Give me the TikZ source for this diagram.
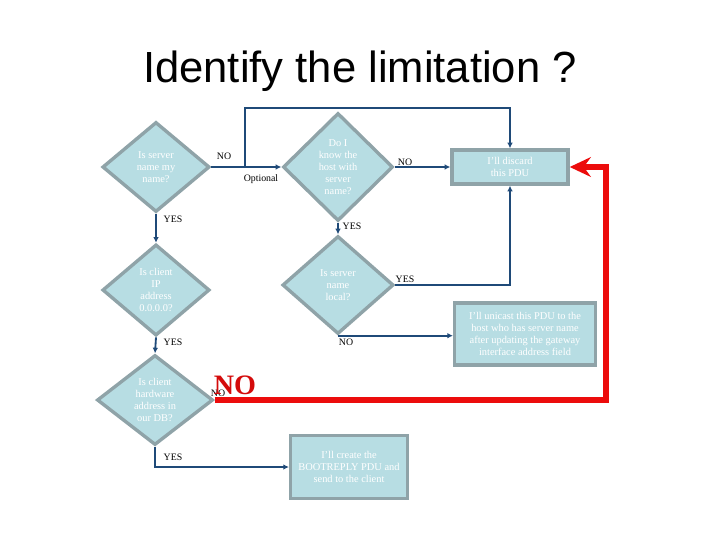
\documentclass[tikz,border=0pt]{standalone}
\usepackage{fontspec}
\setmainfont{Liberation Serif}
\newfontfamily\titlefont{Liberation Sans}
\usetikzlibrary{shapes.geometric,arrows.meta}
\definecolor{boxfill}{RGB}{183,221,227}
\definecolor{boxline}{RGB}{143,163,168}
\definecolor{flowblue}{RGB}{31,74,120}
\definecolor{alarmred}{RGB}{236,12,12}
\begin{document}
\begin{tikzpicture}[x=0.025cm,y=-0.025cm,
  question/.style={diamond,draw=boxline,fill=boxfill,line width=2.4pt,inner sep=0pt,
    text=white,align=center,font=\fontsize{7.4}{8.6}\selectfont},
  action/.style={rectangle,draw=boxline,fill=boxfill,line width=2.4pt,inner sep=0pt,
    text=white,align=center,font=\fontsize{7.4}{8.6}\selectfont},
  flow/.style={draw=flowblue,line width=1.3pt,-{Latex[length=4pt,width=4pt]}},
  alarm/.style={draw=alarmred,line width=3.6pt,-{Stealth[length=15pt,width=14pt,inset=5pt]}},
  tag/.style={font=\fontsize{7}{8}\selectfont,inner sep=0pt}]
\useasboundingbox (0,0) rectangle (720,540);
\node[font=\titlefont\fontsize{31}{36}\selectfont] (title) at (360,71) {Identify the limitation ?};
\node[question,minimum width=2.68cm,minimum height=2.25cm] (servername) at (156,167) {Is server\\name my\\name?};
\node[question,minimum width=2.75cm,minimum height=2.7cm] (knowhost) at (338,167) {Do I\\know the\\host with\\server\\name?};
\node[question,minimum width=2.78cm,minimum height=2.45cm] (local) at (338,285) {Is server\\name\\local?};
\node[question,minimum width=2.68cm,minimum height=2.28cm] (clientip) at (156,290) {Is client\\IP\\address\\0.0.0.0?};
\node[question,minimum width=2.9cm,minimum height=2.25cm] (hwaddr) at (155,400) {Is client\\hardware\\address in\\our DB?};
\node[action,minimum width=2.9cm,minimum height=0.85cm] (discard) at (510,167) {I'll discard\\this PDU};
\node[action,minimum width=3.52cm,minimum height=1.55cm] (unicast) at (525,334) {I'll unicast this PDU to the\\host who has server name\\after updating the gateway\\interface address field};
\node[action,minimum width=2.92cm,minimum height=1.58cm] (create) at (349,467) {I'll create the\\BOOTREPLY PDU and\\send to the client};
\coordinate (optional) at (245,167);
\coordinate (topline) at (245,108);
\coordinate (redturn) at (606,167);
\draw[flow] (servername.east) -- (knowhost.west);
\draw[flow] (optional) -- (topline) -| (discard.north);
\draw[flow] (knowhost.east) -- (discard.west);
\draw[flow] (knowhost.south) -- (local.north);
\draw[flow] (local.east) -| (discard.south);
\draw[flow] (local.south) -- (local.south -| unicast.west);
\draw[flow] (servername.south) -- (clientip.north);
\draw[flow] (clientip.south) -- (hwaddr.north);
\draw[flow] (hwaddr.south) |- (create.west);
\draw[alarm] (hwaddr.east) -| (redturn) -- (discard.east);
\node[tag] (no1) at (224,156) {NO};
\node[tag] (opt) at (261,179) {Optional};
\node[tag] (no2) at (405,162) {NO};
\node[tag] (yes1) at (173,219) {YES};
\node[tag] (yes2) at (352,226) {YES};
\node[tag] (yes3) at (405,279) {YES};
\node[tag] (no3) at (346,342) {NO};
\node[tag] (yes4) at (173,342) {YES};
\node[tag] (no4) at (218,393) {NO};
\node[text=alarmred!90!black,font=\bfseries\fontsize{20}{22}\selectfont,inner sep=0pt] (bigno) at (235,385) {NO};
\node[tag] (yes5) at (173,457) {YES};
\end{tikzpicture}
\end{document}
